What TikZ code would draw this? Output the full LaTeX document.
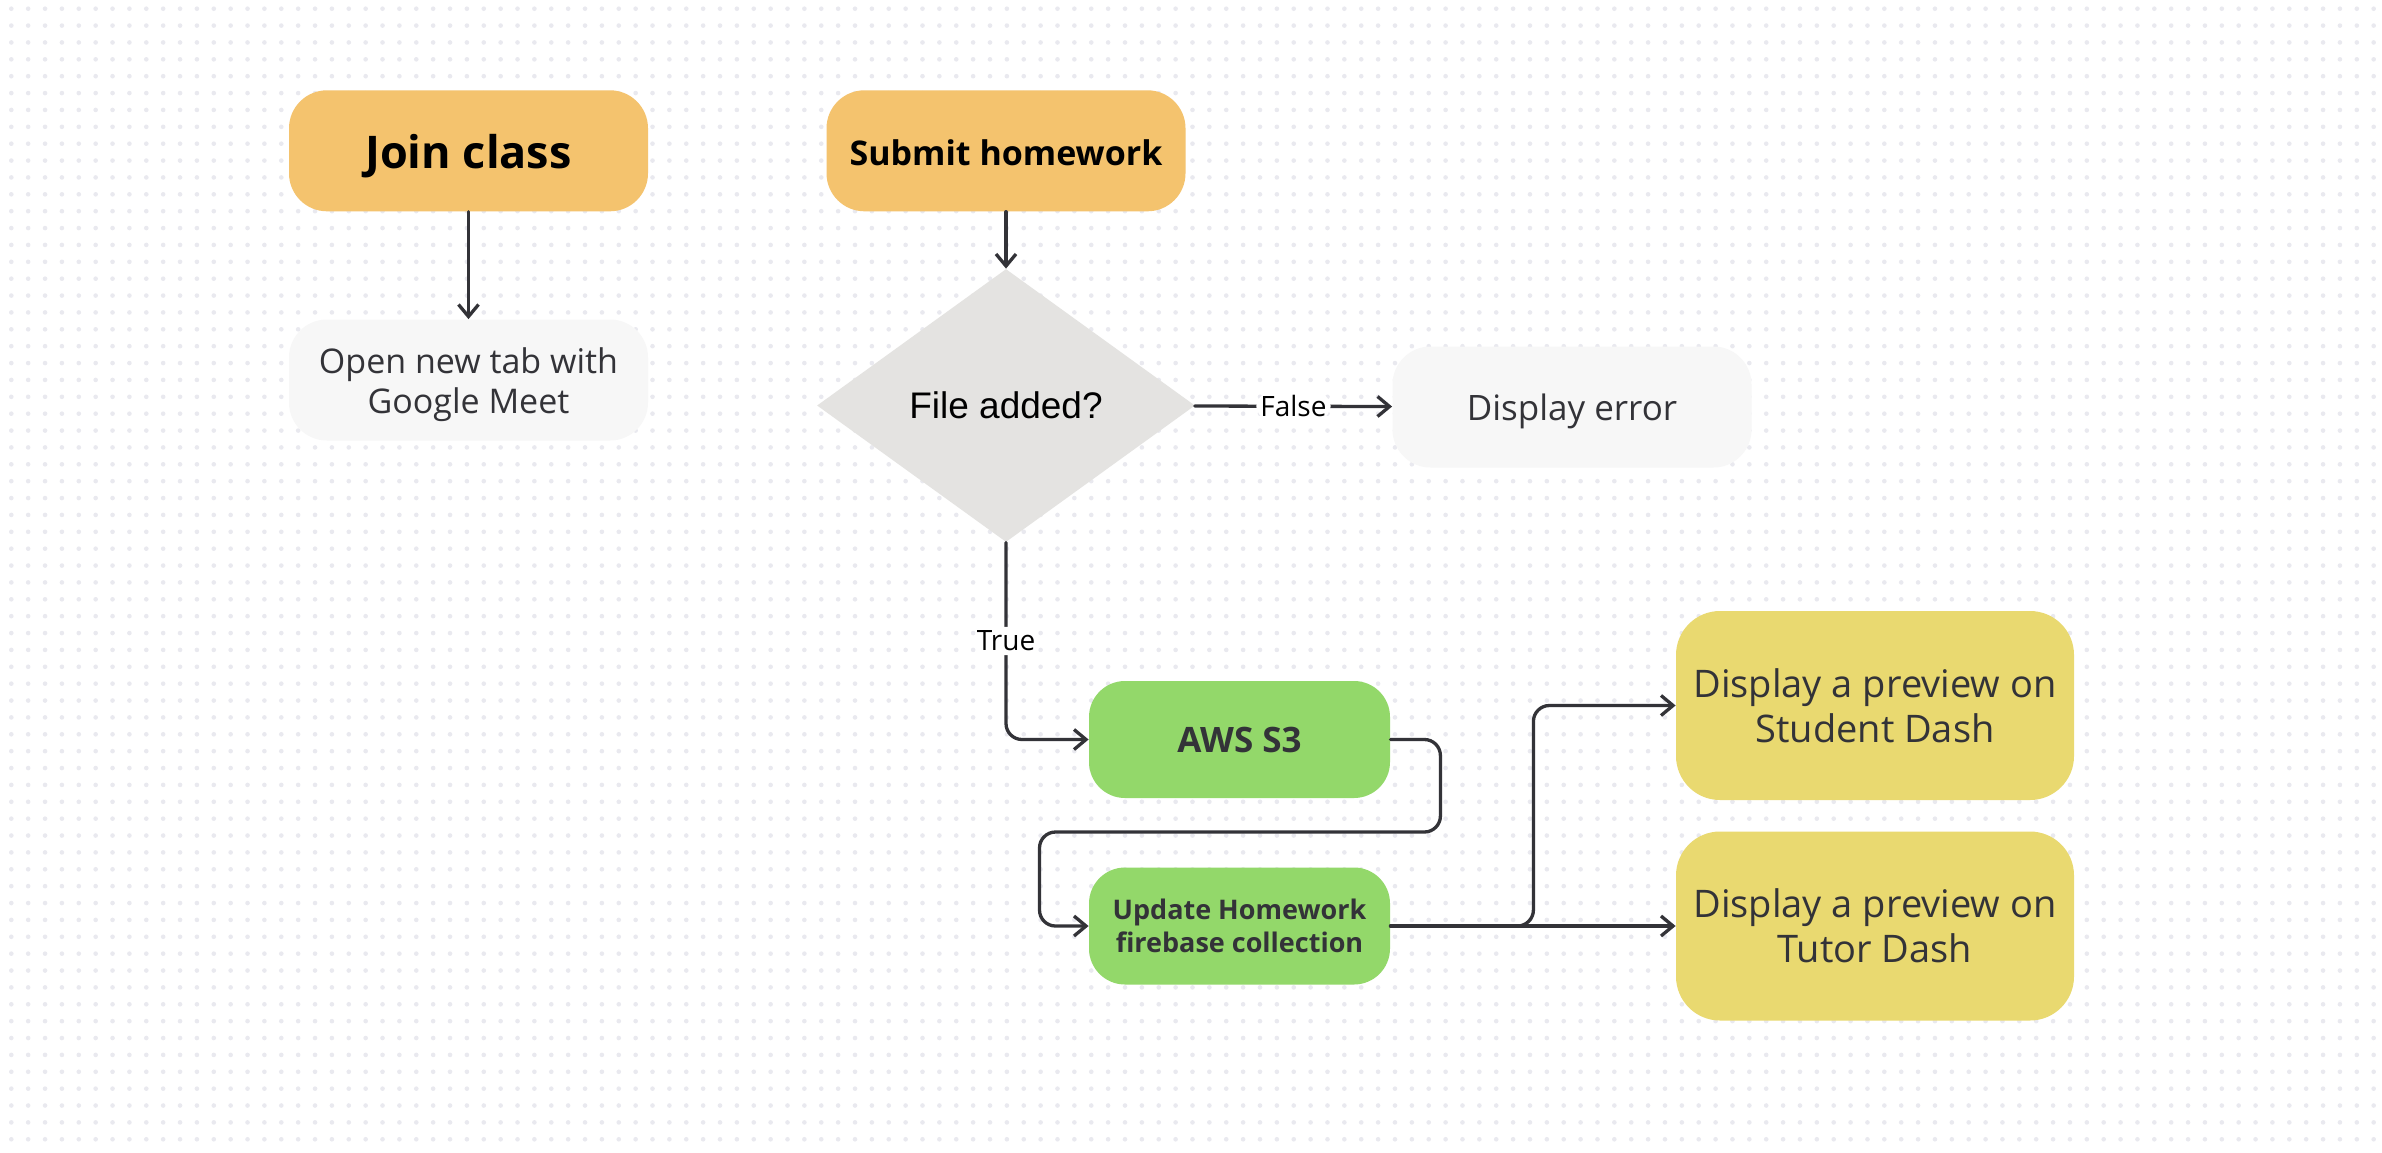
\documentclass[tikz,border=0pt]{standalone}
\usepackage{fontspec}
\setmainfont{Open Sans}
\newfontfamily\arialfont{Liberation Sans}
\usetikzlibrary{shapes.geometric,arrows.meta}
\definecolor{startc}{HTML}{F4C36E}
\definecolor{storec}{HTML}{93D86A}
\definecolor{viewc}{HTML}{E9D970}
\definecolor{askc}{HTML}{E4E3E1}
\definecolor{plainc}{HTML}{F7F7F7}
\definecolor{inkc}{HTML}{333338}
\definecolor{dotc}{HTML}{E9E9EF}
\tikzset{
  startbox/.style={fill=startc,rounded corners=19pt,minimum width=179.5pt,minimum height=60.5pt,
    text height=17.5pt,text depth=0pt,font=\fontsize{22.5}{27}\selectfont\bfseries},
  plainbox/.style={fill=plainc,rounded corners=19pt,minimum width=179.5pt,minimum height=60.5pt,
    text=inkc,align=center,font=\fontsize{17}{20.3}\selectfont},
  askbox/.style={diamond,fill=askc,inner sep=0pt,minimum width=189pt,minimum height=136.5pt,
    text height=13.4pt,text depth=0pt,font=\arialfont\fontsize{18.5}{22}\selectfont},
  storebox/.style={fill=storec,rounded corners=18pt,minimum width=150.5pt,minimum height=58.5pt,
    text=inkc,align=center,font=\bfseries},
  viewbox/.style={fill=viewc,rounded corners=22pt,minimum width=199pt,minimum height=94.5pt,
    text=inkc,align=center,font=\fontsize{19}{22.5}\selectfont},
  flow/.style={draw=inkc,line width=1.65pt,line cap=round,rounded corners=8pt,
    -{Straight Barb[length=6pt,width=10pt,line width=1.65pt]}},
  lbl/.style={fill=white,inner sep=2pt,font=\fontsize{14}{16}\selectfont}
}
\begin{document}
\begin{tikzpicture}[x=0.5pt,y=-0.5pt]
  \fill[white](0,0)rectangle(2382,1152);
  \useasboundingbox(0,0)rectangle(2382,1152);
  \foreach \j in {0,...,67}
    \draw[dotc,line width=2.3pt,line cap=round,dash pattern=on 0pt off 8.437pt]
      (11.3,8.7+16.874*\j)--(2382,8.7+16.874*\j);

  \node[startbox](join)at(468.5,150.8){Join class};
  \node[plainbox](meet)at(468.5,380){\rule{0pt}{17.6pt}Open new tab with\\Google Meet};
  \node[startbox,text height=15pt,font=\fontsize{17}{20}\selectfont\bfseries](submit)at(1006,150.8){Submit homework};
  \node[askbox](added)at(1006,405.5){File added?};
  \node[plainbox,text height=13pt,text depth=0pt,font=\fontsize{17.5}{21}\selectfont](error)at(1572,407){Display error};
  \node[storebox,font=\fontsize{17.5}{21}\selectfont\bfseries](aws)at(1239.5,739.5){AWS S3};
  \node[storebox,font=\fontsize{13.5}{16.5}\selectfont\bfseries](update)at(1239.5,926){Update Homework\\firebase collection};
  \node[viewbox](student)at(1875,705.5){Display a preview on\\Student Dash};
  \node[viewbox](tutor)at(1875,926){Display a preview on\\Tutor Dash};
  \coordinate(back)at(1039.5,832);

  \draw[flow](join)--(meet);
  \draw[flow](submit)--(added);
  \draw[flow](added)--node[lbl]{False}(error);
  \draw[flow](added)--node[lbl]{True}(added|-aws)--(aws);
  \draw[flow](aws.east)-|++(50,92.5)--(back)|-(update.west);
  \draw[flow](update.east)--++(143,0)|-(student.west);
  \draw[flow](update.east)--(tutor.west);
\end{tikzpicture}
\end{document}
